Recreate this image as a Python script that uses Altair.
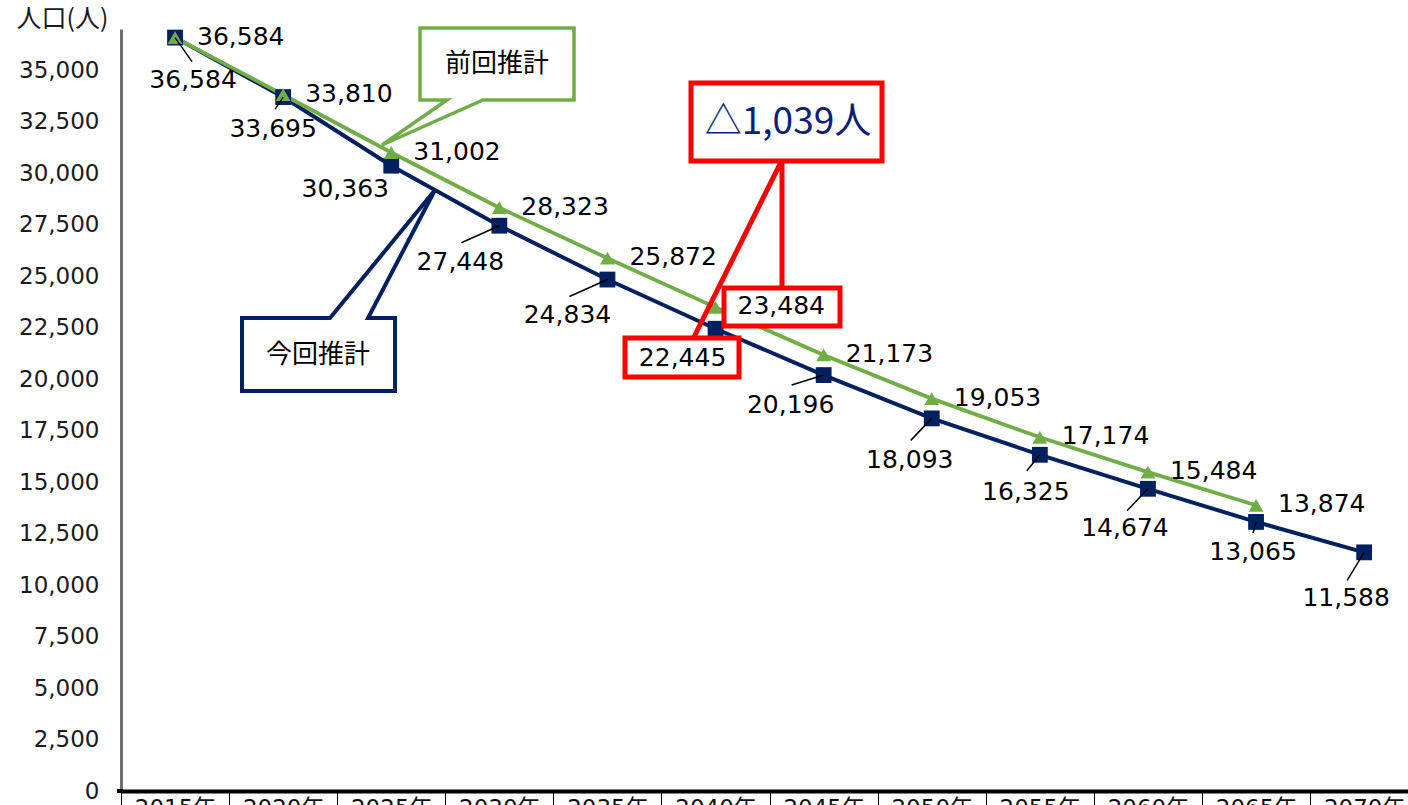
import altair as alt
import pandas as pd

# ---------------- data ----------------
years = ["2015年", "2020年", "2025年", "2030年", "2035年", "2040年",
         "2045年", "2050年", "2055年", "2060年", "2065年", "2070年"]
current = [36584, 33695, 30363, 27448, 24834, 22445, 20196, 18093, 16325, 14674, 13065, 11588]
previous = [36584, 33810, 31002, 28323, 25872, 23484, 21173, 19053, 17174, 15484, 13874]
y_ticks = list(range(0, 35001, 2500))

# placement of the 今回推計 value labels (pixel offsets from their point, as in the original)
cur_label_dx = [18, -10, -46, -39, -40, -33, -33, -22, -14, -23, -3, -18]
cur_label_dy = [42, 32, 23, 36, 35, 29, 30, 42, 37, 39, 30, 46]
# leader lines of those labels (end offsets in pixels; None = no leader)
leader_dx = [17, -8, None, -38, -38, None, -32, -21, -13, -21, -3, -17]
leader_dy = [24, 12, None, 17, 17, None, 10, 22, 16, 22, 11, 28]

NAVY = "#002060"
GREEN = "#70AD47"
RED = "#FF0000"
FONT = "DejaVu Sans, Noto Sans CJK JP"
JFONT = "Noto Sans CJK JP"

cur_df = pd.DataFrame({"year": years, "value": current, "i": list(range(len(years)))})
prev_df = pd.DataFrame({"year": years[:len(previous)], "value": previous})

W, H = 1287, 762
BAND = 108.1

xs = alt.Scale(domain=years, range=[0, BAND * len(years)], paddingInner=0, paddingOuter=0)
ys = alt.Scale(domain=[0, 37000], nice=False, zero=True)

x_enc = alt.X("year:N", scale=xs, sort=years, title=None,
              axis=alt.Axis(domainColor="black", domainWidth=4, tickBand="extent",
                            ticks=True, tickSize=16, tickColor="black", tickWidth=1,
                            labelPadding=-10, labelFont=FONT, labelFontSize=23,
                            labelColor="#111", labelAngle=0, labelBaseline="top"))
y_enc = alt.Y("value:Q", scale=ys, title="人口(人)",
              axis=alt.Axis(values=y_ticks, labelExpr="format(datum.value, ',')",
                            ticks=False, grid=False,
                            domainColor="#6f6f6f", domainWidth=3,
                            labelFont=FONT, labelFontSize=23, labelColor="#1a1a1a",
                            labelPadding=22, titleAngle=0, titleAlign="left",
                            titleBaseline="middle", titleX=-105, titleY=-11,
                            titleFont=JFONT, titleFontSize=25, titleFontWeight="normal",
                            titleColor="#1a1a1a"))

base_cur = alt.Chart(cur_df)
base_prev = alt.Chart(prev_df)

line_cur = base_cur.mark_line(color=NAVY, strokeWidth=4).encode(x=x_enc, y=y_enc)
line_prev = base_prev.mark_line(color=GREEN, strokeWidth=3.8).encode(x="year:N", y="value:Q")
pts_cur = base_cur.mark_point(shape="square", filled=True, size=250, color=NAVY, opacity=1).encode(
    x="year:N", y="value:Q")
pts_prev = base_prev.mark_point(shape="triangle-up", filled=True, size=220, color=GREEN, opacity=1).encode(
    x="year:N", y="value:Q")

leaders = []
cur_labels = []
for i in range(len(years)):
    one_pt = base_cur.transform_filter(alt.datum.i == i)
    if leader_dx[i] is not None:
        leaders.append(one_pt.mark_rule(color="black", strokeWidth=1.5,
                                        x2Offset=leader_dx[i], y2Offset=leader_dy[i]).encode(
            x="year:N", y="value:Q", x2=alt.X2("year"), y2=alt.Y2("value")))
    cur_labels.append(one_pt.mark_text(font=FONT, fontSize=25, color="black", align="center",
                                       baseline="middle", dx=cur_label_dx[i],
                                       dy=cur_label_dy[i]).encode(
        x="year:N", y="value:Q", text=alt.Text("value:Q", format=",")))

lab_prev = base_prev.mark_text(font=FONT, fontSize=25, color="black", align="left",
                               baseline="middle", dx=22, dy=-1).encode(
    x="year:N", y="value:Q", text=alt.Text("value:Q", format=","))

# ---------------- annotations ----------------
one = pd.DataFrame({"a": [0]})


def px(v):
    return alt.value(v - 121)


def py(v):
    return alt.value(v - 29)


# callout shapes, path in pixels relative to the anchor (size=4 -> scale 1)
prev_callout = alt.Chart(one).mark_point(
    shape="M0,0 L154,0 L154,72 L63,72 L-38,117 L27,72 L0,72 Z",
    size=4, filled=True, fill="white", stroke=GREEN, strokeWidth=3.5, opacity=1,
    strokeJoin="miter").encode(x=px(420), y=py(28))
cur_callout = alt.Chart(one).mark_point(
    shape="M0,0 L88,0 L193,-128 L126,0 L153,0 L153,73 L0,73 Z",
    size=4, filled=True, fill="white", stroke=NAVY, strokeWidth=4, opacity=1,
    strokeJoin="miter").encode(x=px(242), y=py(318))

prev_text = alt.Chart(one).mark_text(text="前回推計", font=JFONT, fontSize=26, color="black",
                                     align="center", baseline="middle").encode(x=px(497), y=py(64))
cur_text = alt.Chart(one).mark_text(text="今回推計", font=JFONT, fontSize=26, color="black",
                                    align="center", baseline="middle").encode(x=px(318), y=py(355))

red_v = alt.Chart(one).mark_rule(color=RED, strokeWidth=5).encode(
    x=px(782), y=py(162), x2=px(782), y2=py(289))
red_d = alt.Chart(one).mark_rule(color=RED, strokeWidth=5).encode(
    x=px(781), y=py(162), x2=px(693), y2=py(339))
box_prev = alt.Chart(one).mark_rect(fill="white", stroke=RED, strokeWidth=5).encode(
    x=px(724), x2=px(840), y=py(288), y2=py(326))
box_cur = alt.Chart(one).mark_rect(fill="white", stroke=RED, strokeWidth=5).encode(
    x=px(625), x2=px(739), y=py(338), y2=py(377))
box_diff = alt.Chart(one).mark_rect(fill="white", stroke=RED, strokeWidth=5).encode(
    x=px(691), x2=px(882), y=py(83), y2=py(161))
diff_text = alt.Chart(one).mark_text(text="△1,039人", font=JFONT, fontSize=37, color="#0a1f7a",
                                     align="center", baseline="middle").encode(x=px(788), y=py(123))
# left stub of the category axis line
axis_stub = alt.Chart(one).mark_rule(color="black", strokeWidth=4).encode(
    x=px(117), x2=px(123), y=py(791), y2=py(791))

chart = alt.layer(
    line_cur, line_prev, pts_cur, pts_prev, *leaders,
    prev_callout, cur_callout, prev_text, cur_text,
    red_v, red_d, box_prev, box_cur, box_diff, diff_text,
    *cur_labels, lab_prev, axis_stub,
).properties(
    width=W, height=H,
    background="white",
    autosize=alt.AutoSizeParams(type="none"),
    padding={"left": 121, "top": 29, "right": 0, "bottom": 14},
).configure_view(stroke=None)

chart.save("out.html", embed_options={"renderer": "svg", "actions": False})
